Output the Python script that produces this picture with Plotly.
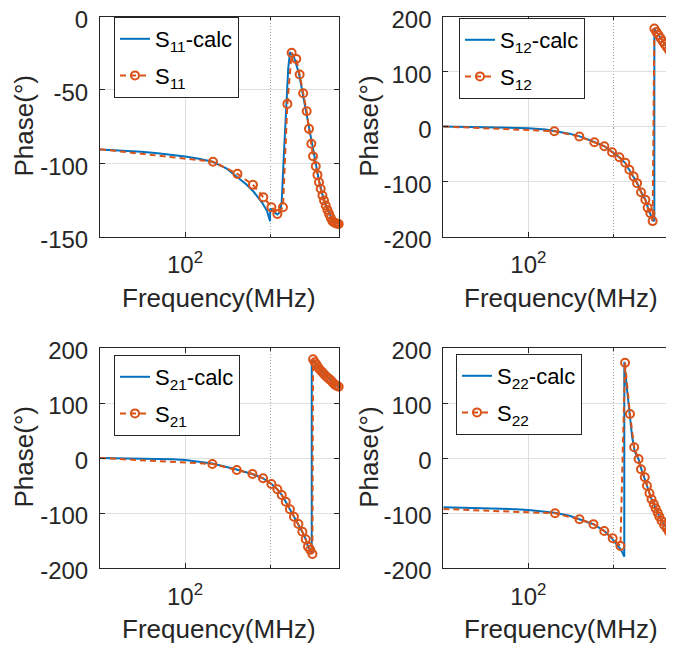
import math
import plotly.graph_objects as go

# ---------------- data (frequency in MHz, phase in degrees) ----------------
# S11
f11_calc = [50, 60, 70, 80, 90, 100, 112, 125, 140, 153, 165, 175, 188, 195, 200, 200.3,
            206, 212, 217, 220, 224, 229, 232, 235.4, 243.2, 253.3, 260.4, 267.5, 274.8,
            282.5, 290.4, 298.1, 310, 320, 330, 340, 350]
p11_calc = [-90.7, -91.5, -92.3, -93.3, -94.3, -95.5, -97, -99, -103.5, -109.6, -114.5, -119.5,
            -127.3, -132.5, -139.6, -131, -133, -135, -133.5, -126, -93, -52.5, -35, -24.3,
            -27.7, -39, -51.6, -64, -76.4, -89, -100, -112, -125, -132, -137.5, -140, -141.5]
f11_meas = [50, 125.6, 153.3, 174, 189.3, 202.2, 212.3, 222.2, 230.3, 238.5, 247.6, 254.6,
            262, 269.6, 274.7, 280, 283.9, 290.3, 294.3, 298.1, 302.2, 306.5, 310.5, 314.9,
            319.3, 323.5, 328, 332.6, 337, 341.6, 346, 350]
p11_meas = [-90.5, -99, -107.3, -114.8, -123.2, -130, -134.6, -130, -59.6, -24.8, -28.9, -39.6,
            -52.3, -64.6, -76.6, -86.8, -95.3, -102.1, -108, -113, -117.5, -122, -125.5, -128.9,
            -131.9, -134.6, -137.3, -139.6, -140.5, -141, -141.3, -141.5]

# S12
f12_calc = [50, 70, 90, 100, 115, 124, 140, 152, 165, 172, 186, 198, 210, 220, 228, 236, 243,
            251, 260, 265, 270, 275, 279.3, 279.4, 290, 300, 310, 320, 330, 350]
p12_calc = [0, -0.8, -2, -3, -5.5, -8, -13, -18, -24.5, -28.5, -36, -46.5, -56, -66, -78.5, -91,
            -103, -119, -133.5, -147, -158, -170, -172, 177.6, 165.5, 154, 143, 132.5, 123, 102]
f12_meas = [50, 123.6, 151.6, 171.3, 185.8, 197.9, 210, 220.5, 227.9, 236, 242.7, 250.6, 259.6,
            264.5, 270.4, 275.5, 279.4, 284, 289, 294, 299, 304, 309, 314, 319, 324, 329, 334,
            339, 344, 350]
p12_meas = [0, -8.5, -18.2, -28.5, -35.8, -46.7, -55.8, -66, -78.7, -90.9, -103, -119.4, -133.3,
            -147.8, -157.6, -172, 178, 172, 166.5, 160.5, 155, 149.5, 144.5, 139.5, 134.5, 129.5,
            125, 120.5, 116, 111.5, 106]

# S21
f21_calc = [50, 70, 90, 100, 125, 150, 173, 189, 202, 212, 220, 227, 235, 243, 252, 260, 267.5,
            272.5, 278, 280.9, 281, 290, 300, 310, 320, 330, 340, 350]
p21_calc = [0, -0.8, -2.2, -3.5, -10, -20, -29, -37, -47, -57, -67, -79, -93, -106.7, -120, -134,
            -148, -161, -168, -174, 179.4, 171, 162, 154, 147, 140.5, 134.5, 129.6]
f21_meas = [50, 125, 152.5, 173.3, 188.9, 202.2, 212.3, 220, 227.3, 235.2, 243, 252, 260.3,
            267.5, 272.5, 277.5, 282.5, 284, 288, 292, 296, 300, 305, 310, 315, 320, 325, 330,
            335, 340, 345, 350]
p21_meas = [0, -10.9, -21.8, -29, -36.9, -47.3, -56.9, -67.3, -79.4, -93.3, -106.7, -120, -134,
            -147.8, -161.2, -167, -174.5, 179.4, 174, 170, 165, 161, 157, 153, 149, 146, 143,
            140, 136, 133, 131, 129.6]

# S22
f22_calc = [50, 70, 90, 100, 124, 140, 152, 170, 186, 199, 210, 215, 218.6, 218.7, 223, 228.5,
            233, 238, 245.6, 250.5, 258, 263, 268.5, 273, 278, 282, 287, 291, 296, 302.5, 308.8,
            314.6, 320.5, 330, 340, 350]
p22_calc = [-89.6, -91, -93, -94.5, -99.5, -105, -111, -120.5, -133, -148, -163, -171, -179.4,
            175, 130, 80, 39, 12, -2, -18, -36, -50, -64, -75, -84, -91.5, -99.5, -106.5, -114,
            -121.8, -127.8, -134, -138, -144, -150, -155]
f22_meas = [50, 124.3, 151.7, 170, 185.7, 198.9, 211.8, 220, 229, 237, 245.6, 250.5, 258.4, 263,
            268.5, 273, 278, 282.2, 287, 291, 296.3, 302.5, 308.8, 314.6, 320.5, 326, 332, 338,
            344, 350]
p22_meas = [-92.7, -100.6, -111.5, -120.3, -132.7, -146, -160, 173.3, 80, 19.5, -1.8, -20.5, -35,
            -50.4, -64.2, -75, -83.6, -91.5, -99.4, -106.7, -114, -121.8, -127.8, -134, -138,
            -142, -146, -149, -152, -155]

names = ["11", "12", "21", "22"]
x_tick_vals = [100]
x_tick_text = ["10<sup>2</sup>"]
y_ticks_s11 = [-150, -100, -50, 0]
y_ticks_other = [-200, -100, 0, 100, 200]

# ---------------- styling ----------------
W, H = 674, 653
OFF = 8  # the page body margin shifts the figure by this many pixels
BLUE = "#0072BD"
ORANGE = "#D95319"
AX = "#262626"
GRID = "#dfdfdf"
FONT = "Liberation Sans, Arial, Helvetica, sans-serif"
TICK_SIZE = 24
TITLE_SIZE = 26
LEG_SIZE = 22


def px(x):
    return (x - OFF) / W


def py(y):
    return 1 - (y - OFF) / H


col_dom = [[px(100), px(338.7)], [px(443.3), px(682)]]
row_dom = [[py(236.5), py(16.5)], [py(568), py(348)]]
x_range = [math.log10(50), math.log10(350)]

fig = go.Figure()

panels = [
    (f11_calc, p11_calc, f11_meas, p11_meas, 0, 0, y_ticks_s11, [-150, 0]),
    (f12_calc, p12_calc, f12_meas, p12_meas, 0, 1, y_ticks_other, [-200, 200]),
    (f21_calc, p21_calc, f21_meas, p21_meas, 1, 0, y_ticks_other, [-200, 200]),
    (f22_calc, p22_calc, f22_meas, p22_meas, 1, 1, y_ticks_other, [-200, 200]),
]

layout = dict(
    template="none",
    width=W, height=H, autosize=False,
    margin=dict(l=0, r=0, t=0, b=0, pad=0, autoexpand=False),
    paper_bgcolor="white", plot_bgcolor="white",
    font=dict(family=FONT, color=AX),
    showlegend=True,
    annotations=[],
)

legend_pos = [(114, 17), (459, 18), (114, 355), (456, 354)]
ytitle_pos = [(23.5, 126), (368.8, 126), (23.5, 457), (368.8, 457)]
xtitle_pos = [(219.2, 298.5), (560.5, 298.5), (219.2, 629), (560.5, 629)]

for i, (fc, pc, fm, pm, row, col, yt, yr) in enumerate(panels):
    k = "" if i == 0 else str(i + 1)
    xa, ya = "x" + k, "y" + k
    leg = "legend" + k
    fig.add_trace(go.Scatter(
        x=fc, y=pc, mode="lines", xaxis=xa, yaxis=ya, legend=leg,
        name="S<sub>%s</sub>-calc" % names[i], legendgroup="c%d" % i,
        line=dict(color=BLUE, width=2),
    ))
    fig.add_trace(go.Scatter(
        x=fm, y=pm, mode="lines+markers", xaxis=xa, yaxis=ya, legend=leg,
        name="S<sub>%s</sub>" % names[i], legendgroup="m%d" % i, cliponaxis=False,
        line=dict(color=ORANGE, width=2, dash="6px,4px"),
        marker=dict(symbol="circle-open", size=8, color=ORANGE, line=dict(width=2, color=ORANGE)),
    ))
    layout["xaxis" + k] = dict(
        type="log", domain=col_dom[col], range=x_range, anchor=ya, automargin=False,
        showline=True, linecolor=AX, linewidth=1, mirror="ticks",
        ticks="inside", ticklen=5, tickcolor=AX, tickwidth=1,
        tickmode="array", tickvals=x_tick_vals, ticktext=x_tick_text,
        tickfont=dict(family=FONT, size=TICK_SIZE, color=AX),
        ticklabelstandoff=7, ticklabeloverflow="allow",
        showgrid=True, gridcolor=GRID, gridwidth=1, zeroline=False,
        minor=dict(tickmode="array", tickvals=[200], ticks="inside", ticklen=3,
                   tickcolor=AX, showgrid=True, griddash="1px,2px", gridcolor="#a0a0a0"),
        fixedrange=True,
    )
    layout["yaxis" + k] = dict(
        domain=row_dom[row], range=yr, anchor=xa, automargin=False,
        showline=True, linecolor=AX, linewidth=1, mirror="ticks",
        ticks="inside", ticklen=5, tickcolor=AX, tickwidth=1,
        tickmode="array", tickvals=yt, ticktext=[str(v) for v in yt],
        tickfont=dict(family=FONT, size=TICK_SIZE, color=AX),
        ticklabelstandoff=6, ticklabelshift=3, ticklabeloverflow="allow",
        showgrid=True, gridcolor=GRID, gridwidth=1, zeroline=False,
        fixedrange=True,
    )
    lx, ly = legend_pos[i]
    layout[leg] = dict(
        x=px(lx), y=py(ly), xanchor="left", yanchor="top",
        bgcolor="white", bordercolor=AX, borderwidth=1,
        font=dict(family=FONT, size=LEG_SIZE, color="#000000"),
        tracegroupgap=5, itemwidth=30,
    )
    tx, ty = ytitle_pos[i]
    layout["annotations"].append(dict(
        text="Phase(°)", xref="paper", yref="paper", x=px(tx), y=py(ty),
        xanchor="center", yanchor="middle", textangle=-90, showarrow=False,
        font=dict(family=FONT, size=TITLE_SIZE, color=AX)))
    tx, ty = xtitle_pos[i]
    layout["annotations"].append(dict(
        text="Frequency(MHz)", xref="paper", yref="paper", x=px(tx), y=py(ty),
        xanchor="center", yanchor="middle", showarrow=False,
        font=dict(family=FONT, size=TITLE_SIZE, color=AX)))

fig.update_layout(**layout)
fig.write_html("out.html")
